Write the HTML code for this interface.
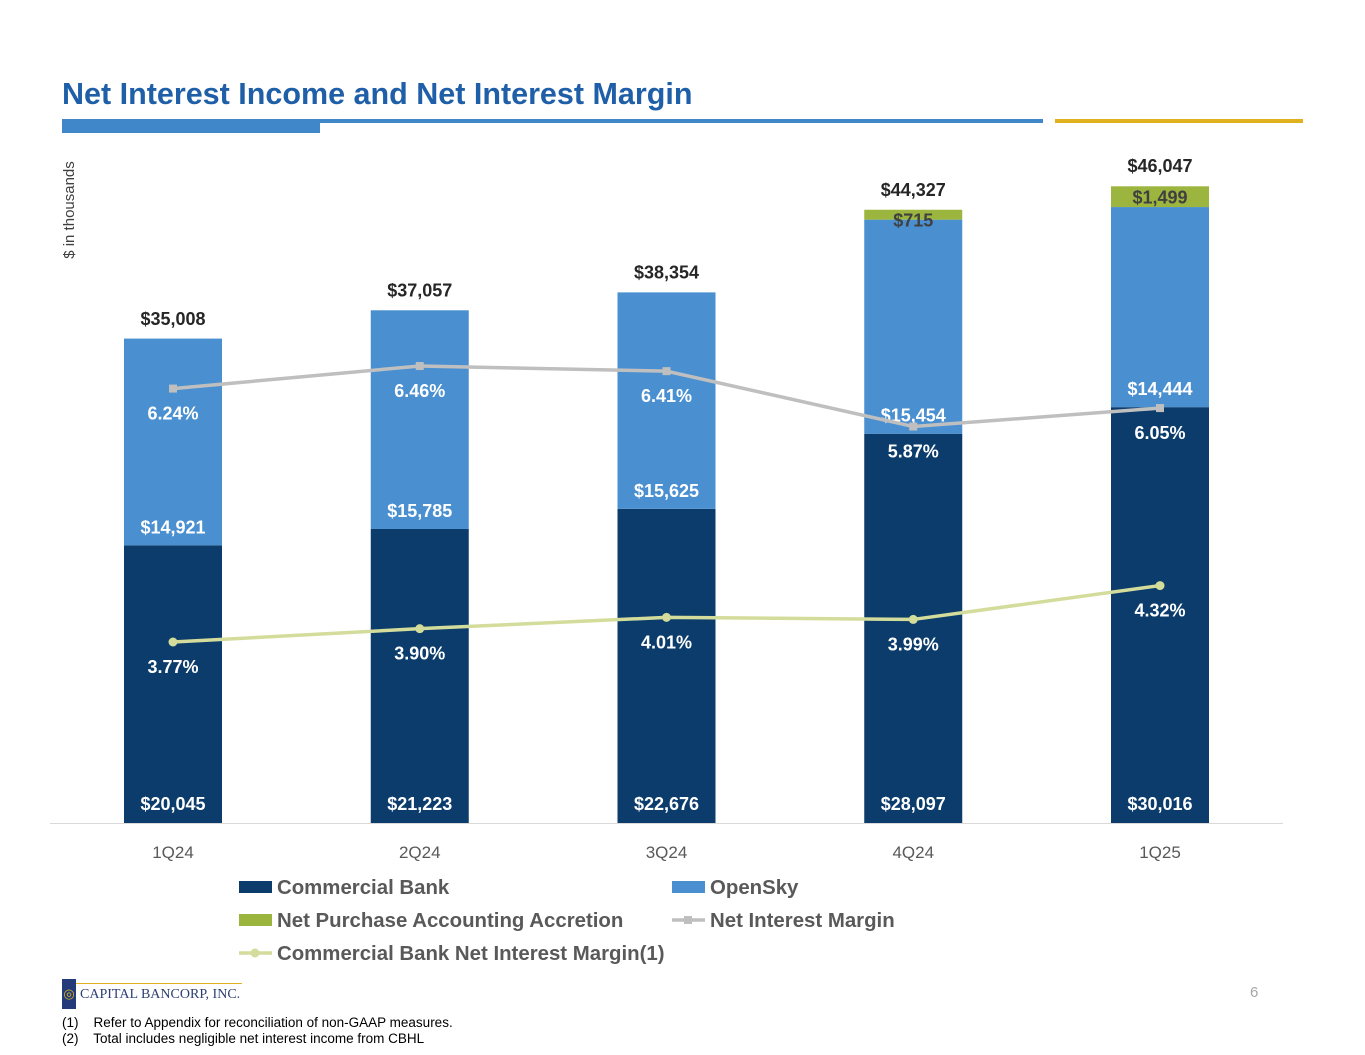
<!DOCTYPE html>
<html><head><meta charset="utf-8">
<style>
body{margin:0;width:1365px;height:1055px;background:#fff;font-family:"Liberation Sans",sans-serif;overflow:hidden;position:relative}
.t{position:absolute}
</style></head><body>
<div class="t" style="left:62px;top:77px;font-size:30.5px;font-weight:bold;color:#1f5fa8">Net Interest Income and Net Interest Margin</div>
<div class="t" style="left:62px;top:120px;width:258px;height:13px;background:#3f87c9"></div>
<div class="t" style="left:62px;top:119px;width:981px;height:4px;background:#3f87c9"></div>
<div class="t" style="left:1055px;top:119px;width:248px;height:4px;background:#e0b11e"></div>
<svg class="t" style="left:0;top:0" width="1365" height="1055" id="chart"></svg>
<div class="t" style="left:62px;top:979px;width:182px;height:30px">
  <div style="position:absolute;left:0;top:0;width:14px;height:30px;background:#243b7a;color:#e0b11e;font-size:13px;text-align:center;line-height:30px">&#x25CE;</div>
  <div style="position:absolute;left:14px;top:4px;width:166px;height:1px;background:#e0b11e"></div>
  <div style="position:absolute;left:18px;top:8px;font-family:'Liberation Serif',serif;font-size:14px;color:#2e3f75;white-space:nowrap">CAPITAL BANCORP, INC.</div>
</div>
<div class="t" style="left:1250px;top:984px;font-size:15px;color:#a6a6a6">6</div>
<div class="t" style="left:62px;top:1015px;font-size:13.5px;color:#000">(1)&nbsp;&nbsp;&nbsp; Refer to Appendix for reconciliation of non-GAAP measures.</div>
<div class="t" style="left:62px;top:1031px;font-size:13.5px;color:#000">(2)&nbsp;&nbsp;&nbsp; Total includes negligible net interest income from CBHL</div>
<script>
const categories=["1Q24","2Q24","3Q24","4Q24","1Q25"];
const commercial=[20045,21223,22676,28097,30016];
const opensky=[14921,15785,15625,15454,14444];
const accretion=[0,0,0,715,1499];
const totals=[35008,37057,38354,44327,46047];
const nim=[6.24,6.46,6.41,5.87,6.05];
const cbNim=[3.77,3.90,4.01,3.99,4.32];

const svg=document.getElementById('chart');
const NS='http://www.w3.org/2000/svg';
const base=823, k=485/35008;
const yv=v=>base-v*k;
const xc=i=>173+i*246.75;
const yp=p=>642-(p-3.77)*102.6;
const bw=98;
function el(tag,attrs,txt){const e=document.createElementNS(NS,tag);for(const a in attrs)e.setAttribute(a,attrs[a]);if(txt!==undefined)e.textContent=txt;svg.appendChild(e);return e;}
const fmt=v=>'$'+v.toLocaleString('en-US');

let e=el('line',{x1:50,x2:1283,y1:823.5,y2:823.5,stroke:'#d9d9d9','stroke-width':1});


e=el('text',{x:74,y:210,transform:'rotate(-90 74 210)','text-anchor':'middle','font-size':15,fill:'#404040'},'$ in thousands');



categories.forEach((c,i)=>{
  const x=xc(i)-bw/2;
  const y1=yv(commercial[i]);
  e=el('rect',{x:x,y:y1,width:bw,height:base-y1,fill:'#0b3c6b'});
  
  
  const y2=yv(commercial[i]+opensky[i]);
  e=el('rect',{x:x,y:y2,width:bw,height:y1-y2,fill:'#4a8fd0'});
  
  
  if(accretion[i]>0){
    const y3=yv(commercial[i]+opensky[i]+accretion[i]);
    e=el('rect',{x:x,y:y3,width:bw,height:y2-y3,fill:'#9bb53f'});
    
    
    e=el('text',{x:xc(i),y:y3+17,'text-anchor':'middle','font-size':18,'font-weight':'bold',fill:'#404040'},fmt(accretion[i]));
    
    
  }
  e=el('text',{x:xc(i),y:yv(totals[i])-13,'text-anchor':'middle','font-size':18,'font-weight':'bold',fill:'#262626'},fmt(totals[i]));
  
  
  e=el('text',{x:xc(i),y:base-13,'text-anchor':'middle','font-size':18,'font-weight':'bold',fill:'#fff'},fmt(commercial[i]));
  
  
  e=el('text',{x:xc(i),y:y1-12,'text-anchor':'middle','font-size':18,'font-weight':'bold',fill:'#fff'},fmt(opensky[i]));
  
  
  e=el('text',{x:xc(i),y:858,'text-anchor':'middle','font-size':17,fill:'#595959'},c);
  
  
});

function series(vals,color,marker,name){
  const pts=vals.map((v,i)=>xc(i)+','+yp(v)).join(' ');
  let p=el('polyline',{points:pts,fill:'none',stroke:color,'stroke-width':3.5});
  
  
  vals.forEach((v,i)=>{
    let m;
    if(marker==='sq') m=el('rect',{x:xc(i)-4,y:yp(v)-4,width:8,height:8,fill:color});
    else m=el('circle',{cx:xc(i),cy:yp(v),r:4.5,fill:color});
    
    
    const t=el('text',{x:xc(i),y:yp(v)+31,'text-anchor':'middle','font-size':18,'font-weight':'bold',fill:'#fff'},v.toFixed(2)+'%');
    
    
  });
}
series(nim,'#bfbfbf','sq','nim');
series(cbNim,'#d3dc9b','circ','cb-nim');

const legend=[["Commercial Bank",239,887,'box','#0b3c6b'],["OpenSky",672,887,'box','#4a8fd0'],["Net Purchase Accounting Accretion",239,920,'box','#9bb53f'],["Net Interest Margin",672,920,'sq','#bfbfbf'],["Commercial Bank Net Interest Margin(1)",239,953,'circ','#d3dc9b']];
legend.forEach(l=>{
  const [t,x,y,type,c]=l;
  if(type==='box') e=el('rect',{x:x,y:y-6,width:33,height:12,fill:c});
  else{
    e=el('line',{x1:x,x2:x+33,y1:y,y2:y,stroke:c,'stroke-width':3.5});
    if(type==='sq') el('rect',{x:x+12,y:y-4,width:8,height:8,fill:c});
    else el('circle',{cx:x+16,cy:y,r:4.5,fill:c});
  }
  
  
  e=el('text',{x:x+38,y:y+7,'font-size':20.4,'font-weight':'bold',fill:'#595959'},t);
  
  
});
</script>
</body></html>
